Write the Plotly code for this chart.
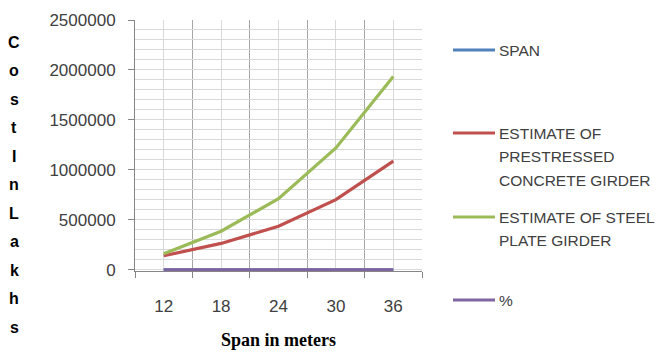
import plotly.graph_objects as go

# ---- data ----
spans = [12, 18, 24, 30, 36]
span_series = [12, 18, 24, 30, 36]
prestressed = [140000, 264000, 436000, 702000, 1088000]
steel = [160000, 386000, 712000, 1220000, 1934000]
percent = [12, 32, 39, 42, 44]
x_labels = ["12", "18", "24", "30", "36"]
y_ticks = [0, 500000, 1000000, 1500000, 2000000, 2500000]
y_ticktext = ["0", "500000", "1000000", "1500000", "2000000", "2500000"]
band_edges = [9, 15, 21, 27, 33, 39]
series_names = ["SPAN", "ESTIMATE OF PRESTRESSED CONCRETE GIRDER",
                "ESTIMATE OF STEEL PLATE GIRDER", "%"]
legend_lines = [["SPAN"],
                ["ESTIMATE OF", "PRESTRESSED", "CONCRETE GIRDER"],
                ["ESTIMATE OF STEEL", "PLATE GIRDER"],
                ["%"]]
colors = ["#4F81BD", "#C0504D", "#9BBB59", "#8064A2"]
y_title_letters = list("CostInLakhs")
x_title = "Span in meters"

W, H = 657, 352
L, R, T, B = 135, 235, 20, 81
PW, PH = W - L - R, H - T - B


def px_x(px):
    return (px - L) / PW


def px_y(py):
    return (H - B - py) / PH


fig = go.Figure()
all_series = [span_series, prestressed, steel, percent]
for name, vals, col in zip(series_names, all_series, colors):
    fig.add_trace(go.Scatter(x=spans, y=vals, mode="lines", name=name,
                             line=dict(color=col, width=3.2), showlegend=False))

grid_light = "#d9d9d9"
grid_dark = "#a6a6a6"
axis_col = "#868686"
txt_col = "#404040"
tick_font = dict(family="Liberation Sans, Arial, sans-serif", size=17, color=txt_col)

fig.update_layout(
    width=W, height=H,
    margin=dict(l=L, r=R, t=T, b=B),
    paper_bgcolor="white", plot_bgcolor="white",
    showlegend=False,
    xaxis=dict(
        range=[band_edges[0], band_edges[-1]],
        tickvals=spans, ticktext=x_labels, ticks="",
        showgrid=True, gridcolor=grid_light, gridwidth=1,
        minor=dict(tickvals=band_edges, ticks="outside", ticklen=6,
                   tickcolor=axis_col, showgrid=True, gridcolor=grid_dark),
        showline=True, linecolor=axis_col, linewidth=1, zeroline=False,
        tickfont=tick_font, ticklabelstandoff=20,
    ),
    yaxis=dict(
        range=[-12000, 2500000],
        tickvals=y_ticks, ticktext=y_ticktext,
        ticks="outside", ticklen=6, tickcolor=axis_col,
        showgrid=True, gridcolor=grid_light, gridwidth=1,
        minor=dict(dtick=100000, tick0=0, showgrid=True, gridcolor=grid_light, ticks=""),
        showline=True, linecolor=axis_col, linewidth=1, zeroline=False,
        tickfont=tick_font, ticklabelstandoff=9,
    ),
)

annotations = []
# vertical y-axis title (stacked letters)
for i, ch in enumerate(y_title_letters):
    annotations.append(dict(
        text="<b>" + ch + "</b>", xref="paper", yref="paper", x=px_x(14), y=px_y(42 + 28.5 * i),
        xanchor="center", yanchor="middle", showarrow=False,
        font=dict(family="Liberation Sans, Arial, sans-serif", size=16, color="black"),
    ))
# x-axis title
annotations.append(dict(
    text="<b>" + x_title + "</b>", xref="paper", yref="paper", x=0.5, y=px_y(340),
    xanchor="center", yanchor="middle", showarrow=False,
    font=dict(family="Liberation Serif, Times New Roman, serif", size=18, color="black"),
))

# manual legend
legend_tops = [50, 133, 217, 300]
line_step = 23.5
shapes = []
for lines, top, col in zip(legend_lines, legend_tops, colors):
    shapes.append(dict(type="line", xref="paper", yref="paper",
                       x0=px_x(453), x1=px_x(495), y0=px_y(top), y1=px_y(top),
                       line=dict(color=col, width=3)))
    for j, ln in enumerate(lines):
        annotations.append(dict(
            text=ln, xref="paper", yref="paper", x=px_x(497), y=px_y(top + line_step * j),
            xanchor="left", yanchor="middle", showarrow=False,
            font=dict(family="Liberation Sans, Arial, sans-serif", size=15.5, color=txt_col),
        ))

fig.update_layout(annotations=annotations, shapes=shapes)
fig.write_html("out.html")
